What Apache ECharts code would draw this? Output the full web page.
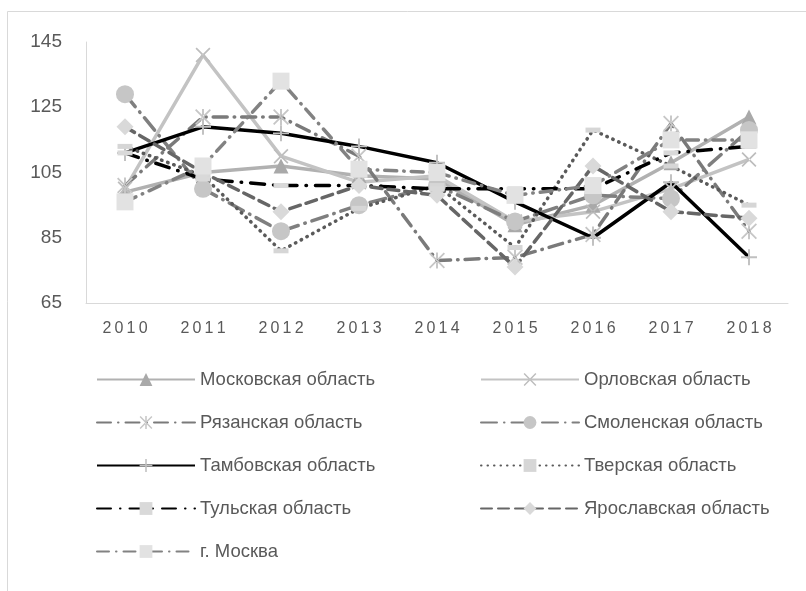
<!DOCTYPE html>
<html>
<head>
<meta charset="utf-8">
<script src="https://cdn.jsdelivr.net/npm/echarts@6/dist/echarts.min.js"></script>
<style>
  html, body { margin: 0; padding: 0; background: #fff; }
  #chart { width: 806px; height: 591px; }
</style>
</head>
<body>
<div id="chart"></div>
<script>
// годы и значения по областям
const years = ['2010', '2011', '2012', '2013', '2014', '2015', '2016', '2017', '2018']
const moskovskaya = [99, 105, 107, 104, 103, 89, 95, 108, 122]
const orlovskaya = [100, 141, 110, 102, 104, 90, 93, 100, 109]
const ryazanskaya = [101, 122, 122, 110, 78, 79, 86, 120, 87]
const smolenskaya = [129, 100, 87, 95, 101, 90, 98, 97, 118]
const tambovskaya = [111, 119, 117, 113, 108, 96, 85, 102, 79]
const tverskaya = [113, 104, 81, 94, 101, 82, 118, 107, 95]
const tulskaya = [111, 103, 101, 101, 100, 100, 100, 111, 113]
const yaroslavskaya = [119, 105, 93, 101, 98, 76, 107, 93, 91]
const moskva = [96, 107, 133, 106, 105, 98, 101, 115, 115]
const yTicks = [65, 85, 105, 125, 145]

// символы-маркеры
const plusPath = 'path://M4.4,0H5.6V4.4H10V5.6H5.6V10H4.4V5.6H0V4.4H4.4Z'
const crossPath = 'path://M0,0.8L0.8,0L10,9.2L9.2,10ZM10,0.8L9.2,0L0,9.2L0.8,10Z'
const starPath = 'path://M0,0.8L0.8,0L10,9.2L9.2,10ZM10,0.8L9.2,0L0,9.2L0.8,10ZM4.4,0H5.6V10H4.4Z'

function makeSeries (name, data, line, dash, symbol, size, markColor) {
  return {
    name: name,
    type: 'line',
    data: data,
    symbol: symbol,
    symbolSize: size,
    showAllSymbol: true,
    lineStyle: { color: line, width: 3.5, type: dash, cap: dash === 'solid' ? 'butt' : 'round' },
    itemStyle: { color: markColor },
    emphasis: { disabled: true },
    animation: false
  }
}

const seriesList = [
  makeSeries('Московская область', moskovskaya, '#b1b1b1', 'solid', 'triangle', 15, '#a9a9a9'),
  makeSeries('Орловская область', orlovskaya, '#c3c3c3', 'solid', crossPath, 15, '#bdbdbd'),
  makeSeries('Рязанская область', ryazanskaya, '#7a7a7a', [14, 7, 0.5, 7], starPath, 16, '#c6c6c6'),
  makeSeries('Смоленская область', smolenskaya, '#7f7f7f', [16, 7, 0.5, 7], 'circle', 18, '#c6c6c6'),
  makeSeries('Тамбовская область', tambovskaya, '#000000', 'solid', plusPath, 16, '#c0c0c0'),
  makeSeries('Тверская область', tverskaya, '#5a5a5a', [0.5, 6], 'rect', [15, 5], '#d6d6d6'),
  makeSeries('Тульская область', tulskaya, '#000000', [14, 9, 0.5, 9], 'rect', [15, 5], '#d9d9d9'),
  makeSeries('Ярославская область', yaroslavskaya, '#666666', [11, 6], 'diamond', 17, '#d9d9d9'),
  makeSeries('г. Москва', moskva, '#828282', [12, 7, 0.5, 7], 'rect', 17, '#e2e2e2')
]

const names = seriesList.map(s => s.name)

const chart = echarts.init(document.getElementById('chart'), null, {renderer: 'canvas'})
const legendBase = {
  orient: 'vertical',
  padding: 0,
  itemWidth: 98,
  itemHeight: 16,
  itemGap: 24,
  selectedMode: false,
  textStyle: { fontFamily: 'Liberation Sans', fontSize: 18.5, color: '#595959' }
}
const option = {
  backgroundColor: '#ffffff',
  animation: false,
  graphic: [{
    type: 'rect',
    shape: { x: 7.5, y: 11.5, width: 900, height: 700 },
    style: { fill: 'none', stroke: '#d9d9d9', lineWidth: 1 },
    silent: true
  }],
  legend: [
    Object.assign({}, legendBase, { left: 96, top: 370, data: names.filter((n, i) => i % 2 === 0) }),
    Object.assign({}, legendBase, { left: 480, top: 370, data: names.filter((n, i) => i % 2 === 1) })
  ],
  grid: { left: 86, right: 18, top: 42, bottom: 288, containLabel: false },
  xAxis: {
    type: 'category',
    data: years,
    boundaryGap: true,
    axisLine: { show: true, lineStyle: { color: '#d9d9d9', width: 1 } },
    axisTick: { show: false },
    axisLabel: {
      margin: 18,
      color: '#595959',
      fontFamily: 'Liberation Sans',
      fontSize: 16,
      formatter: v => v.split('').join('\u2009')
    }
  },
  yAxis: {
    type: 'value',
    min: yTicks[0],
    max: yTicks[yTicks.length - 1],
    interval: 20,
    axisLine: { show: true, lineStyle: { color: '#d9d9d9', width: 1 } },
    axisTick: { show: false },
    splitLine: { show: false },
    axisLabel: { margin: 24, color: '#595959', fontFamily: 'Liberation Sans', fontSize: 19 }
  },
  series: seriesList
}
chart.setOption(option)
</script>
</body>
</html>
